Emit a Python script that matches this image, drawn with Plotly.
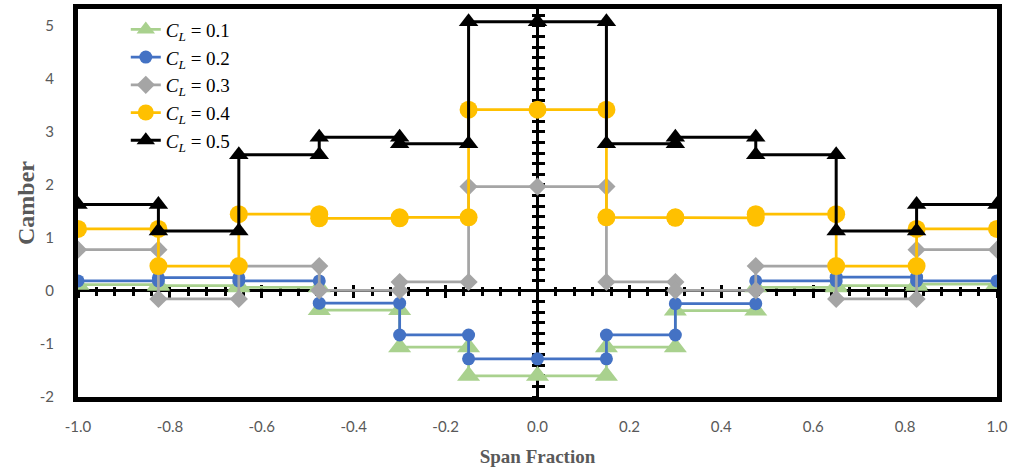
import plotly.graph_objects as go

# Section edges along the span and section camber values (left tip -> right tip)
edges = [-1.0, -0.825, -0.65, -0.475, -0.3, -0.15, 0.15, 0.3, 0.475, 0.65, 0.825, 1.0]
center_station = 0.0

cl_01 = [0.12, 0.10, 0.07, -0.36, -1.06, -1.60, -1.06, -0.37, 0.07, 0.10, 0.13]
cl_02 = [0.19, 0.25, 0.19, -0.23, -0.83, -1.28, -0.83, -0.24, 0.19, 0.26, 0.19]
cl_03 = [0.78, -0.15, 0.47, 0.01, 0.17, 1.97, 0.17, 0.01, 0.47, -0.15, 0.78]
cl_04 = [1.17, 0.47, 1.45, 1.37, 1.39, 3.42, 1.39, 1.38, 1.45, 0.47, 1.17]
cl_05 = [1.63, 1.13, 2.57, 2.90, 2.78, 5.08, 2.78, 2.90, 2.57, 1.13, 1.63]

series_names = ["<i>C<sub>L</sub></i> = 0.1", "<i>C<sub>L</sub></i> = 0.2",
                "<i>C<sub>L</sub></i> = 0.3", "<i>C<sub>L</sub></i> = 0.4",
                "<i>C<sub>L</sub></i> = 0.5"]
series_vals = [cl_01, cl_02, cl_03, cl_04, cl_05]
colors = ["#A9D18E", "#4472C4", "#A5A5A5", "#FFC000", "#000000"]
symbols = ["triangle-up", "circle", "diamond", "circle", "triangle-up"]
msizes = [20, 13, 14, 18, 17]

x_ticks = [-1.0, -0.8, -0.6, -0.4, -0.2, 0.0, 0.2, 0.4, 0.6, 0.8, 1.0]
y_ticks = [-2, -1, 0, 1, 2, 3, 4, 5]
y_range = [-2, 5.32]


def step_path(vals):
    xs, ys = [], []
    for i, v in enumerate(vals):
        a, b = edges[i], edges[i + 1]
        xs.append(a); ys.append(v)
        if a < center_station < b:
            xs.append(center_station); ys.append(v)
        xs.append(b); ys.append(v)
    return xs, ys


fig = go.Figure()
for name, vals, col, sym, ms in zip(series_names, series_vals, colors, symbols, msizes):
    xs, ys = step_path(vals)
    fig.add_trace(go.Scatter(
        x=xs, y=ys, mode="lines+markers", name=name,
        line=dict(color=col, width=3 if col == "#000000" else 2.75),
        marker=dict(symbol=sym, size=ms, color=col, line=dict(width=0)),
    ))

# empty helper traces to bind the crossing tick axes
for xa, ya in [("x2", "y"), ("x3", "y"), ("x", "y2"), ("x", "y3")]:
    fig.add_trace(go.Scatter(x=[], y=[], xaxis=xa, yaxis=ya, showlegend=False, hoverinfo="skip"))

zero_pos = (0 - y_range[0]) / (y_range[1] - y_range[0])
tickfont = dict(family="Liberation Sans Narrow, Lato, sans-serif", size=15, color="#595959")

common_x = dict(range=[-1, 1], showgrid=False, zeroline=False, showline=False,
                showticklabels=False, tickmode="linear", tick0=-1, dtick=0.2,
                ticklen=6, tickwidth=2.5, tickcolor="black",
                anchor="free", position=zero_pos, overlaying="x", layer="below traces")
common_y = dict(range=y_range, showgrid=False, zeroline=False, showline=False,
                showticklabels=False, tickmode="linear", tick0=0, dtick=0.2,
                ticklen=6, tickwidth=2.5, tickcolor="black",
                anchor="free", position=0.5, overlaying="y", layer="below traces")

fig.update_layout(
    width=1015, height=469,
    margin=dict(l=78, r=18, t=9, b=72, autoexpand=False),
    plot_bgcolor="white", paper_bgcolor="white",
    showlegend=True,
    legend=dict(x=0.052, y=0.996, xanchor="left", yanchor="top",
                bgcolor="rgba(0,0,0,0)", borderwidth=0,
                font=dict(family="Liberation Serif, serif", size=19, color="black"),
                tracegroupgap=0),
    xaxis=dict(range=[-1, 1], tickmode="array", tickvals=x_ticks,
               ticktext=[f"{v:.1f}" for v in x_ticks],
               showgrid=False, ticks="", showline=True, mirror=True,
               linecolor="black", linewidth=5,
               zeroline=True, zerolinecolor="black", zerolinewidth=3,
               tickfont=tickfont, ticklabelstandoff=12,
               title=dict(text="Span Fraction", font=dict(family="Liberation Serif, serif", size=19,
                                                           color="#595959", weight="bold"), standoff=17)),
    yaxis=dict(range=y_range, tickmode="array", tickvals=y_ticks,
               ticktext=[str(v) for v in y_ticks],
               showgrid=False, ticks="", showline=True, mirror=True,
               linecolor="black", linewidth=5,
               zeroline=True, zerolinecolor="black", zerolinewidth=3,
               tickfont=tickfont, ticklabelstandoff=16,
               title=dict(text="Camber", font=dict(family="Liberation Serif, serif", size=24,
                                                    color="#595959", weight="bold"), standoff=0)),
    xaxis2=dict(**common_x, ticks="outside",
                minor=dict(ticks="outside", dtick=0.04, tick0=-1, ticklen=4, tickwidth=2.5, tickcolor="black")),
    xaxis3=dict(**common_x, ticks="inside",
                minor=dict(ticks="inside", dtick=0.04, tick0=-1, ticklen=4, tickwidth=2.5, tickcolor="black")),
    yaxis2=dict(**common_y, ticks="outside"),
    yaxis3=dict(**common_y, ticks="inside"),
)

fig.write_html("out.html")
